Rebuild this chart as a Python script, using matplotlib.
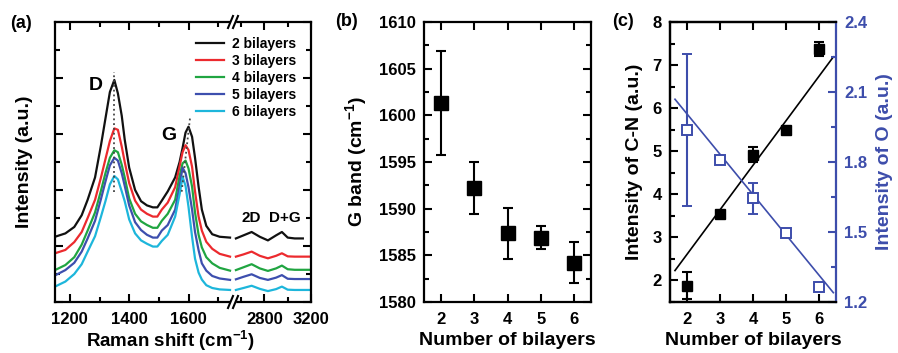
import numpy as np
import matplotlib
matplotlib.use("Agg")
import matplotlib.pyplot as plt
from matplotlib.lines import Line2D
from matplotlib.ticker import MultipleLocator, FixedLocator, NullFormatter, FormatStrFormatter

plt.rcParams['font.family'] = ['Liberation Sans', 'DejaVu Sans']
plt.rcParams['font.weight'] = 'bold'
plt.rcParams['axes.labelweight'] = 'bold'
plt.rcParams['mathtext.fontset'] = 'custom'
plt.rcParams['mathtext.rm'] = 'Liberation Sans:bold'
plt.rcParams['mathtext.default'] = 'rm'

# ---------------- data: panel (a) Raman spectra ----------------
labels_a = ['2 bilayers', '3 bilayers', '4 bilayers', '5 bilayers', '6 bilayers']
colors_a = ['#111111', '#EC2A2E', '#20A541', '#3D4FAE', '#1DB6DB']

x_low = [1150, 1185, 1215, 1240, 1260, 1285, 1305, 1320, 1335, 1350, 1362, 1375, 1385,
         1400, 1420, 1440, 1460, 1480, 1495, 1510, 1530, 1555, 1570, 1580, 1590, 1600,
         1612, 1622, 1634, 1645, 1660, 1680, 1705, 1740]
y_low_2 = [2.33, 2.45, 2.68, 3.10, 3.65, 4.45, 5.60, 6.55, 7.50, 7.93, 7.45, 6.65, 5.80,
           4.80, 4.00, 3.60, 3.45, 3.38, 3.38, 3.62, 3.95, 4.45, 5.00, 5.50, 6.05, 6.26,
           5.90, 5.15, 4.12, 3.30, 2.72, 2.42, 2.33, 2.30]
y_low_3 = [1.74, 1.86, 2.14, 2.50, 3.00, 3.65, 4.45, 5.10, 5.75, 6.20, 6.15, 5.55, 5.00,
           4.25, 3.62, 3.30, 3.15, 3.05, 3.05, 3.30, 3.55, 4.10, 4.85, 5.35, 5.60, 5.43,
           4.83, 3.95, 3.05, 2.55, 2.15, 1.90, 1.72, 1.62]
y_low_4 = [1.14, 1.32, 1.60, 2.05, 2.55, 3.20, 3.98, 4.60, 5.15, 5.42, 5.35, 4.90, 4.45,
           3.70, 3.15, 2.88, 2.75, 2.65, 2.65, 2.90, 3.15, 3.65, 4.50, 4.95, 5.05, 4.77,
           4.12, 3.20, 2.40, 1.95, 1.60, 1.38, 1.22, 1.12]
y_low_5 = [0.95, 1.14, 1.40, 1.80, 2.27, 2.90, 3.68, 4.30, 4.88, 5.15, 5.05, 4.60, 4.15,
           3.45, 2.85, 2.57, 2.40, 2.30, 2.30, 2.55, 2.75, 3.30, 4.15, 4.80, 4.60, 4.10,
           3.30, 2.50, 1.85, 1.38, 1.12, 0.93, 0.84, 0.79]
y_low_6 = [0.55, 0.73, 1.00, 1.35, 1.80, 2.35, 3.05, 3.60, 4.20, 4.50, 4.38, 3.95, 3.60,
           2.95, 2.45, 2.20, 2.08, 1.98, 1.98, 2.18, 2.40, 3.05, 3.85, 4.47, 4.15, 3.40,
           2.33, 1.55, 1.05, 0.80, 0.60, 0.50, 0.45, 0.43]

x_high = [2555, 2620, 2690, 2760, 2830, 2900, 2950, 3000, 3060, 3130, 3200]
y_high_2 = [2.27, 2.38, 2.50, 2.33, 2.20, 2.38, 2.50, 2.30, 2.27, 2.27, np.nan]
y_high_3 = [1.62, 1.70, 1.80, 1.65, 1.56, 1.65, 1.74, 1.63, 1.62, 1.62, 1.62]
y_high_4 = [1.14, 1.24, 1.35, 1.20, 1.11, 1.20, 1.30, 1.17, 1.15, 1.15, 1.15]
y_high_5 = [0.81, 0.90, 0.99, 0.86, 0.79, 0.87, 0.96, 0.83, 0.82, 0.82, 0.82]
y_high_6 = [0.43, 0.50, 0.58, 0.47, 0.39, 0.46, 0.55, 0.44, 0.43, 0.43, 0.43]

y_low_all = [y_low_2, y_low_3, y_low_4, y_low_5, y_low_6]
y_high_all = [y_high_2, y_high_3, y_high_4, y_high_5, y_high_6]

d_guide_x = [1350, 1350]
d_guide_y = [3.94, 8.23]
g_guide_x = [1577, 1605]
g_guide_y = [3.94, 6.56]

# ---------------- data: panel (b) ----------------
bilayers = [2, 3, 4, 5, 6]
g_band = [1601.3, 1592.2, 1587.35, 1586.9, 1584.2]
g_band_err = [5.6, 2.8, 2.7, 1.2, 2.2]

# ---------------- data: panel (c) ----------------
cn_int = [1.88, 3.55, 4.92, 5.50, 7.37]
cn_err = [0.32, 0.0, 0.18, 0.0, 0.17]
o_int = [1.937, 1.809, 1.644, 1.494, 1.265]
o_err = [0.326, 0.0, 0.068, 0.0, 0.0]
cn_fit_x = [1.65, 6.42]
cn_fit_y = [2.23, 7.19]
o_fit_x = [1.65, 6.42]
o_fit_y = [2.069, 1.24]

blue = '#3D4DAB'

# ---------------- figure ----------------
W, H = 898, 353
fig = plt.figure(figsize=(W / 100, H / 100), dpi=100)

def rect(l, r, t=22, b=302):
    return [l / W, 1 - b / H, (r - l) / W, (b - t) / H]

tick_kw = dict(direction='in', width=1.5)
TFS = 12
LFS = 14
XPAD = 7

# ---- panel (a) ----
axL = fig.add_axes(rect(55, 233))
axR = fig.add_axes(rect(233, 311))
handles = []
for yl, yh, c, lab in zip(y_low_all, y_high_all, colors_a, labels_a):
    h, = axL.plot(x_low, yl, color=c, lw=1.6, label=lab, solid_joinstyle='round')
    axR.plot(x_high, yh, color=c, lw=1.6, solid_joinstyle='round')
    handles.append(h)
axL.plot(d_guide_x, d_guide_y, color='#444444', ls=':', lw=1.3)
axL.plot(g_guide_x, g_guide_y, color='#444444', ls=':', lw=1.3)

for ax in (axL, axR):
    ax.set_ylim(0, 10)
    for s in ax.spines.values():
        s.set_linewidth(1.6)
axL.set_xlim(1150, 1750)
axR.set_xlim(2530, 3200)
axL.spines['right'].set_visible(False)
axR.spines['left'].set_visible(False)

axL.xaxis.set_major_locator(FixedLocator([1200, 1400, 1600]))
axL.xaxis.set_minor_locator(FixedLocator([1300, 1500, 1700]))
axR.xaxis.set_major_locator(FixedLocator([2800, 3200]))
axR.xaxis.set_minor_locator(FixedLocator([2600, 3000]))
for ax in (axL, axR):
    ax.yaxis.set_major_locator(MultipleLocator(2))
    ax.yaxis.set_minor_locator(MultipleLocator(1))
    ax.yaxis.set_major_formatter(NullFormatter())
axL.tick_params(which='both', top=True, right=False, left=True, **tick_kw)
axR.tick_params(which='both', top=True, right=True, left=False, **tick_kw)
for ax in (axL, axR):
    ax.tick_params(which='major', length=6, labelsize=TFS, pad=XPAD)
    ax.tick_params(which='minor', length=3.5)
axL.set_xlabel('Raman shift (cm$^{-1}$)', fontsize=13.5)
axL.xaxis.set_label_coords(0.646, -0.095)
axL.xaxis.label.set_va('top')
axL.set_ylabel('Intensity (a.u.)', fontsize=LFS, labelpad=9)

axL.text(1286, 7.75, 'D', fontsize=14, fontweight='bold', ha='center', va='center')
axL.text(1534, 5.96, 'G', fontsize=14, fontweight='bold', ha='center', va='center')
axR.text(2691, 3.0, '2D', fontsize=11, fontweight='bold', ha='center', va='center')
axR.text(2975, 3.0, 'D+G', fontsize=11, fontweight='bold', ha='center', va='center')

fig.legend(handles=handles, loc='upper left', bbox_to_anchor=(196 / W, 1 - 37 / H),
           frameon=False, fontsize=10,
           handlelength=2.0, handletextpad=0.6, labelspacing=0.22,
           borderpad=0, borderaxespad=0)

# break marks
for yb in (22, 302):
    fig.add_artist(plt.Rectangle(((233 - 2) / W, 1 - (yb + 2) / H), 4 / W, 4 / H,
                                 color='white', transform=fig.transFigure, zorder=5))
    for dx in (-2.5, 2.5):
        xc = 233 + dx
        fig.add_artist(Line2D([(xc - 2.5) / W, (xc + 2.5) / W],
                              [1 - (yb + 6) / H, 1 - (yb - 6) / H],
                              color='black', lw=1.5, transform=fig.transFigure, zorder=6))

# ---- panel (b) ----
axb = fig.add_axes(rect(424, 591))
axb.errorbar(bilayers, g_band, yerr=g_band_err, fmt='s', color='black', ms=9.5,
             elinewidth=1.5, capsize=3.6, capthick=1.5)
axb.set_xlim(1.5, 6.5)
axb.set_ylim(1580, 1610)
axb.xaxis.set_major_locator(FixedLocator(bilayers))
axb.yaxis.set_major_locator(MultipleLocator(5))
axb.yaxis.set_minor_locator(MultipleLocator(2.5))
axb.tick_params(which='both', top=True, right=True, **tick_kw)
axb.tick_params(which='major', length=6, labelsize=TFS, pad=XPAD)
axb.tick_params(axis='y', which='major', pad=6)
axb.tick_params(which='minor', length=3.5)
for s in axb.spines.values():
    s.set_linewidth(1.6)
axb.set_xlabel('Number of bilayers', fontsize=LFS, labelpad=4)
axb.set_ylabel('G band (cm$^{-1}$)', fontsize=LFS, labelpad=7)

# ---- panel (c) ----
axc = fig.add_axes(rect(670, 836))
axc2 = axc.twinx()
axc.plot(cn_fit_x, cn_fit_y, color='black', lw=1.2)
axc.errorbar(bilayers, cn_int, yerr=cn_err, fmt='s', color='black', ms=7.5,
             elinewidth=1.5, capsize=3.6, capthick=1.5, zorder=3)
axc2.plot(o_fit_x, o_fit_y, color=blue, lw=1.2)
axc2.errorbar(bilayers, o_int, yerr=o_err, fmt='s', color=blue, ms=7.5, mfc='white',
              mec=blue, mew=1.4, elinewidth=1.5, capsize=3.6, capthick=1.5, zorder=3)
axc.set_xlim(1.5, 6.5)
axc.set_ylim(1.5, 8)
axc2.set_ylim(1.2, 2.4)
axc.xaxis.set_major_locator(FixedLocator(bilayers))
axc.yaxis.set_major_locator(MultipleLocator(1))
axc.yaxis.set_minor_locator(MultipleLocator(0.5))
axc2.yaxis.set_major_locator(MultipleLocator(0.3))
axc2.yaxis.set_minor_locator(MultipleLocator(0.15))
axc2.yaxis.set_major_formatter(FormatStrFormatter('%.1f'))
axc.tick_params(which='both', top=True, right=False, **tick_kw)
axc.tick_params(which='major', length=6, labelsize=TFS, pad=XPAD)
axc.tick_params(axis='y', which='major', pad=6)
axc.tick_params(which='minor', length=3.5)
axc2.tick_params(which='both', direction='in', width=1.5, color=blue, labelcolor=blue)
axc2.tick_params(which='major', length=6, labelsize=TFS, pad=6)
axc2.tick_params(which='minor', length=3.5)
for s in axc.spines.values():
    s.set_linewidth(1.6)
for s in axc2.spines.values():
    s.set_linewidth(1.6)
axc2.spines['right'].set_color(blue)
axc.spines['right'].set_visible(False)
axc.set_xlabel('Number of bilayers', fontsize=LFS, labelpad=4)
axc.set_ylabel('Intensity of C-N (a.u.)', fontsize=LFS, labelpad=7)
axc2.set_ylabel('Intensity of O (a.u.)', fontsize=LFS, labelpad=6, color=blue)

# panel letters
fig.text(10 / W, 1 - 23 / H, '(a)', fontsize=13, fontweight='bold', va='center')
fig.text(335 / W, 1 - 21 / H, '(b)', fontsize=13, fontweight='bold', va='center')
fig.text(612 / W, 1 - 22 / H, '(c)', fontsize=13, fontweight='bold', va='center')

fig.savefig('out.png', dpi=100)
